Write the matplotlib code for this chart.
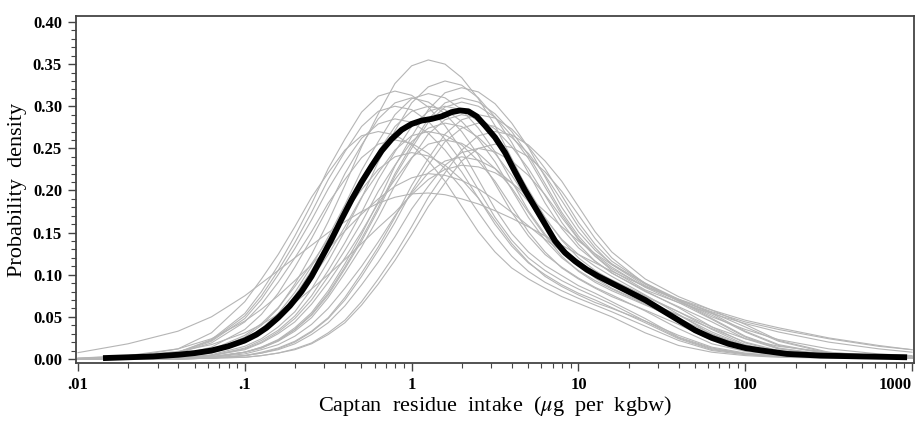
import numpy as np
import matplotlib
matplotlib.use("Agg")
import matplotlib.pyplot as plt
import matplotlib.transforms as mtransforms
from matplotlib.ticker import FixedLocator, LogLocator, NullFormatter, MultipleLocator

# log10 of intake where the grey curves were read
grid_log = [-2.0, -1.7, -1.4, -1.2, -1.0, -0.9, -0.8, -0.7, -0.6, -0.5,
            -0.4, -0.3, -0.2, -0.1, 0.0, 0.1, 0.2, 0.3, 0.4, 0.5,
            0.6, 0.7, 0.8, 0.9, 1.0, 1.1, 1.2, 1.4, 1.6, 1.8,
            2.0, 2.2, 2.5, 2.8, 3.0]

# grey curves (one per simulation), densities
grey = [
    [0.000, 0.000, 0.003, 0.009, 0.026, 0.040, 0.060, 0.089, 0.124, 0.163, 0.206, 0.252, 0.291, 0.327, 0.348, 0.355,
     0.350, 0.334, 0.309, 0.277, 0.238, 0.199, 0.167, 0.142, 0.124, 0.110, 0.098, 0.076, 0.053, 0.029, 0.014, 0.007, 0.003, 0.002, 0.001],
    [0.000, 0.001, 0.008, 0.023, 0.054, 0.080, 0.111, 0.146, 0.184, 0.226, 0.261, 0.293, 0.312, 0.318,
     0.313, 0.299, 0.277, 0.248, 0.213, 0.178, 0.149, 0.127, 0.111, 0.099, 0.087, 0.078, 0.068, 0.048, 0.026, 0.013, 0.006, 0.003, 0.002, 0.001, 0.001],
    [0.000, 0.000, 0.001, 0.003, 0.008, 0.014, 0.023, 0.037, 0.055, 0.081, 0.113, 0.148, 0.187, 0.229, 0.264, 0.296, 0.316, 0.322,
     0.317, 0.303, 0.280, 0.251, 0.216, 0.180, 0.151, 0.129, 0.113, 0.089, 0.069, 0.048, 0.027, 0.013, 0.005, 0.002, 0.002],
    [0.0075, 0.018, 0.033, 0.050, 0.075, 0.090, 0.105, 0.120, 0.135, 0.150, 0.163, 0.175, 0.185, 0.192, 0.196, 0.197,
     0.195, 0.190, 0.184, 0.176, 0.167, 0.157, 0.146, 0.135, 0.124, 0.114, 0.104, 0.086, 0.070, 0.056, 0.044, 0.035, 0.024, 0.015, 0.011],
    [0.001, 0.004, 0.012, 0.024, 0.045, 0.059, 0.075, 0.093, 0.112, 0.131, 0.152, 0.172, 0.190, 0.205, 0.215, 0.220,
     0.218, 0.212, 0.202, 0.189, 0.174, 0.158, 0.142, 0.128, 0.115, 0.104, 0.094, 0.075, 0.056, 0.038, 0.024, 0.015, 0.008, 0.004, 0.003],
    [0.000, 0.000, 0.001, 0.004, 0.013, 0.022, 0.034, 0.051, 0.075, 0.105, 0.138, 0.174, 0.213, 0.246, 0.276, 0.294, 0.300,
     0.296, 0.282, 0.261, 0.234, 0.201, 0.168, 0.141, 0.120, 0.105, 0.093, 0.074, 0.056, 0.035, 0.017, 0.008, 0.003, 0.002, 0.002],
    [0.000, 0.000, 0.000, 0.001, 0.004, 0.007, 0.012, 0.020, 0.032, 0.048, 0.070, 0.098, 0.129, 0.162, 0.199, 0.230, 0.258, 0.274, 0.280,
     0.276, 0.263, 0.244, 0.218, 0.188, 0.157, 0.132, 0.112, 0.087, 0.069, 0.052, 0.032, 0.016, 0.006, 0.003, 0.002],
    [0.000, 0.001, 0.004, 0.014, 0.035, 0.053, 0.078, 0.109, 0.143, 0.180, 0.220, 0.254, 0.285, 0.304, 0.310,
     0.305, 0.291, 0.270, 0.242, 0.208, 0.174, 0.146, 0.124, 0.109, 0.096, 0.085, 0.076, 0.057, 0.036, 0.018, 0.009, 0.005, 0.002, 0.002, 0.001],
    [0.000, 0.000, 0.001, 0.004, 0.011, 0.019, 0.030, 0.044, 0.065, 0.091, 0.120, 0.151, 0.185, 0.213, 0.239, 0.255, 0.260,
     0.256, 0.244, 0.226, 0.203, 0.174, 0.146, 0.122, 0.104, 0.091, 0.081, 0.064, 0.048, 0.030, 0.015, 0.007, 0.003, 0.002, 0.001],
    [0.000, 0.000, 0.001, 0.002, 0.008, 0.013, 0.021, 0.033, 0.049, 0.073, 0.102, 0.133, 0.168, 0.206, 0.238, 0.267, 0.284, 0.290,
     0.286, 0.273, 0.252, 0.226, 0.194, 0.162, 0.136, 0.116, 0.102, 0.080, 0.062, 0.044, 0.024, 0.012, 0.004, 0.002, 0.001],
    [0.000, 0.000, 0.000, 0.001, 0.004, 0.007, 0.011, 0.018, 0.029, 0.043, 0.063, 0.088, 0.115, 0.145, 0.178, 0.205, 0.230, 0.245, 0.250,
     0.246, 0.235, 0.218, 0.195, 0.168, 0.142, 0.122, 0.105, 0.082, 0.067, 0.054, 0.042, 0.032, 0.020, 0.012, 0.008],
    [0.000, 0.001, 0.008, 0.022, 0.051, 0.075, 0.105, 0.138, 0.174, 0.213, 0.246, 0.276, 0.294, 0.300,
     0.296, 0.282, 0.261, 0.234, 0.201, 0.168, 0.141, 0.120, 0.105, 0.093, 0.083, 0.074, 0.065, 0.045, 0.025, 0.012, 0.006, 0.003, 0.002, 0.001, 0.001],
    [0.000, 0.000, 0.002, 0.007, 0.019, 0.031, 0.046, 0.068, 0.095, 0.124, 0.157, 0.192, 0.221, 0.248, 0.265, 0.270,
     0.266, 0.254, 0.235, 0.211, 0.181, 0.151, 0.127, 0.108, 0.095, 0.084, 0.074, 0.058, 0.041, 0.022, 0.011, 0.005, 0.002, 0.001, 0.001],
    [0.000, 0.000, 0.000, 0.002, 0.006, 0.011, 0.017, 0.027, 0.041, 0.060, 0.084, 0.110, 0.139, 0.170, 0.197, 0.221, 0.235, 0.240,
     0.236, 0.226, 0.209, 0.187, 0.161, 0.134, 0.113, 0.096, 0.084, 0.066, 0.052, 0.036, 0.020, 0.010, 0.004, 0.002, 0.001],
    [0.000, 0.000, 0.001, 0.005, 0.015, 0.024, 0.038, 0.056, 0.083, 0.116, 0.152, 0.191, 0.234, 0.271, 0.304, 0.323, 0.330,
     0.325, 0.310, 0.287, 0.257, 0.221, 0.185, 0.155, 0.132, 0.116, 0.102, 0.081, 0.061, 0.038, 0.019, 0.009, 0.004, 0.002, 0.002],
    [0.000, 0.000, 0.001, 0.002, 0.008, 0.014, 0.022, 0.035, 0.053, 0.078, 0.109, 0.143, 0.180, 0.220, 0.254, 0.285, 0.304, 0.310,
     0.305, 0.291, 0.270, 0.242, 0.208, 0.174, 0.146, 0.124, 0.109, 0.085, 0.067, 0.047, 0.026, 0.012, 0.005, 0.002, 0.002],
    [0.000, 0.001, 0.007, 0.021, 0.048, 0.071, 0.100, 0.131, 0.165, 0.202, 0.234, 0.262, 0.279, 0.285,
     0.281, 0.268, 0.248, 0.222, 0.191, 0.160, 0.134, 0.114, 0.100, 0.088, 0.078, 0.070, 0.061, 0.043, 0.024, 0.011, 0.006, 0.003, 0.002, 0.001, 0.001],
    [0.000, 0.000, 0.000, 0.001, 0.002, 0.004, 0.007, 0.012, 0.019, 0.031, 0.046, 0.068, 0.095, 0.124, 0.157, 0.192, 0.221, 0.248, 0.265, 0.270,
     0.266, 0.254, 0.235, 0.211, 0.181, 0.151, 0.127, 0.095, 0.074, 0.058, 0.041, 0.022, 0.008, 0.003, 0.002],
    [0.000, 0.000, 0.002, 0.008, 0.022, 0.034, 0.051, 0.075, 0.105, 0.138, 0.174, 0.213, 0.246, 0.276, 0.294, 0.300,
     0.296, 0.282, 0.261, 0.234, 0.201, 0.168, 0.141, 0.120, 0.105, 0.093, 0.083, 0.065, 0.045, 0.025, 0.012, 0.006, 0.003, 0.002, 0.001],
    [0.001, 0.003, 0.009, 0.017, 0.031, 0.041, 0.053, 0.067, 0.083, 0.100, 0.118, 0.137, 0.156, 0.174, 0.195, 0.213, 0.225, 0.230,
     0.228, 0.221, 0.209, 0.193, 0.175, 0.157, 0.140, 0.125, 0.112, 0.090, 0.069, 0.050, 0.035, 0.023, 0.012, 0.006, 0.004],
    [0.000, 0.000, 0.000, 0.001, 0.004, 0.008, 0.013, 0.021, 0.033, 0.049, 0.073, 0.102, 0.133, 0.168, 0.206, 0.238, 0.267, 0.284, 0.290,
     0.286, 0.273, 0.252, 0.226, 0.194, 0.162, 0.136, 0.116, 0.090, 0.071, 0.054, 0.033, 0.017, 0.006, 0.003, 0.002],
    [0.000, 0.001, 0.007, 0.019, 0.044, 0.065, 0.091, 0.120, 0.151, 0.185, 0.213, 0.239, 0.255, 0.260,
     0.256, 0.244, 0.226, 0.203, 0.174, 0.146, 0.122, 0.104, 0.091, 0.081, 0.072, 0.064, 0.056, 0.039, 0.022, 0.010, 0.005, 0.003, 0.002, 0.001, 0.001],
    [0.000, 0.000, 0.001, 0.004, 0.012, 0.020, 0.032, 0.048, 0.070, 0.098, 0.129, 0.162, 0.199, 0.230, 0.258, 0.274, 0.280,
     0.276, 0.263, 0.244, 0.218, 0.188, 0.157, 0.132, 0.112, 0.098, 0.087, 0.069, 0.052, 0.032, 0.016, 0.008, 0.003, 0.002, 0.001],
    [0.000, 0.000, 0.003, 0.011, 0.028, 0.042, 0.061, 0.086, 0.113, 0.142, 0.174, 0.201, 0.225, 0.240, 0.245,
     0.241, 0.230, 0.213, 0.191, 0.164, 0.137, 0.115, 0.098, 0.086, 0.076, 0.067, 0.060, 0.045, 0.028, 0.014, 0.007, 0.004, 0.002, 0.001, 0.001],
    [0.000, 0.000, 0.001, 0.002, 0.008, 0.013, 0.022, 0.035, 0.052, 0.076, 0.107, 0.140, 0.177, 0.217, 0.250, 0.281, 0.299, 0.305,
     0.300, 0.287, 0.265, 0.238, 0.204, 0.171, 0.143, 0.122, 0.107, 0.086, 0.071, 0.058, 0.046, 0.037, 0.025, 0.016, 0.011],
    [0.000, 0.002, 0.012, 0.031, 0.068, 0.095, 0.124, 0.157, 0.192, 0.221, 0.248, 0.265, 0.270,
     0.266, 0.254, 0.235, 0.211, 0.181, 0.151, 0.127, 0.108, 0.095, 0.084, 0.074, 0.066, 0.058, 0.050, 0.031, 0.016, 0.008, 0.004, 0.002, 0.001, 0.001, 0.001],
    [0.000, 0.000, 0.000, 0.001, 0.002, 0.004, 0.007, 0.011, 0.018, 0.029, 0.043, 0.064, 0.089, 0.117, 0.148, 0.181, 0.209, 0.235, 0.250, 0.255,
     0.251, 0.240, 0.222, 0.199, 0.171, 0.143, 0.120, 0.089, 0.070, 0.055, 0.038, 0.021, 0.007, 0.003, 0.002],
    [0.000, 0.000, 0.003, 0.008, 0.023, 0.036, 0.054, 0.079, 0.110, 0.145, 0.183, 0.224, 0.258, 0.290, 0.309, 0.315,
     0.310, 0.296, 0.274, 0.246, 0.211, 0.176, 0.148, 0.126, 0.110, 0.098, 0.087, 0.068, 0.047, 0.026, 0.013, 0.006, 0.003, 0.002, 0.001],
]

# mean curve (thick black)
mean_log = [-1.85, -1.7, -1.55, -1.4, -1.3, -1.2, -1.1, -1.0, -0.93, -0.87,
            -0.8, -0.73, -0.66, -0.6, -0.54, -0.48, -0.42, -0.36, -0.3, -0.24,
            -0.18, -0.12, -0.06, 0.0, 0.06, 0.12, 0.18, 0.24, 0.29, 0.34,
            0.39, 0.44, 0.5, 0.56, 0.62, 0.68, 0.74, 0.8, 0.86, 0.92,
            0.98, 1.05, 1.12, 1.2, 1.3, 1.4, 1.5, 1.6, 1.7, 1.8,
            1.9, 2.0, 2.1, 2.25, 2.45, 2.7, 2.97]
mean_y = [0.001, 0.002, 0.003, 0.005, 0.007, 0.010, 0.015, 0.022, 0.029, 0.037,
          0.049, 0.063, 0.080, 0.098, 0.120, 0.142, 0.166, 0.189, 0.210, 0.229,
          0.247, 0.261, 0.272, 0.279, 0.283, 0.285, 0.288, 0.293, 0.295, 0.294,
          0.288, 0.277, 0.263, 0.245, 0.222, 0.200, 0.180, 0.160, 0.140, 0.126,
          0.116, 0.106, 0.098, 0.090, 0.080, 0.070, 0.058, 0.046, 0.034, 0.025,
          0.018, 0.013, 0.010, 0.006, 0.004, 0.003, 0.002]

xticks = [0.01, 0.1, 1, 10, 100, 1000]
xticklabels = [".01", ".1", "1", "10", "100", "1000"]
yticks = [0.00, 0.05, 0.10, 0.15, 0.20, 0.25, 0.30, 0.35, 0.40]

plt.rcParams["font.family"] = "Liberation Serif"
plt.rcParams["mathtext.fontset"] = "stix"

fig = plt.figure(figsize=(9.2, 4.22), dpi=100)
ax = fig.add_axes([0.0826, 0.1398, 0.911, 0.822])

gx = 10 ** np.array(grid_log)
for g in grey:
    ax.plot(gx, g, color="#b5b5b5", lw=0.8)
ax.plot(10 ** np.array(mean_log), mean_y, color="black", lw=4.2,
        solid_capstyle="butt", solid_joinstyle="round")

ax.set_xscale("log")
ax.set_xlim(0.00973, 1028)
ax.set_ylim(-0.0048, 0.407)

ax.xaxis.set_major_locator(FixedLocator(xticks))
ax.set_xticklabels(xticklabels)
ax.xaxis.set_minor_locator(LogLocator(base=10, subs=np.arange(2, 10)))
ax.xaxis.set_minor_formatter(NullFormatter())
ax.set_yticks(yticks)
ax.set_yticklabels([f"{v:.2f}" for v in yticks])
ax.yaxis.set_minor_locator(MultipleLocator(0.01))

for lab in ax.get_xticklabels() + ax.get_yticklabels():
    lab.set_fontweight("bold")
    lab.set_fontsize(12)

# last x label sits against the right edge
last = ax.get_xticklabels()[-1]
last.set_horizontalalignment("right")
last.set_transform(last.get_transform() +
                   mtransforms.ScaledTranslation(6 / 100, 0, fig.dpi_scale_trans))

ax.tick_params(which="major", length=6, width=1.0, color="#444444", pad=4)
ax.tick_params(which="minor", length=3.5, width=0.8, color="#444444")
for s in ax.spines.values():
    s.set_color("#444444")
    s.set_linewidth(1.3)

ax.set_ylabel("Probability  density", fontsize=16, labelpad=4)
ax.set_xlabel("Captan  residue  intake  ($\\mu$g  per  kgbw)", fontsize=16, labelpad=1)

fig.savefig("out.png", dpi=100)
